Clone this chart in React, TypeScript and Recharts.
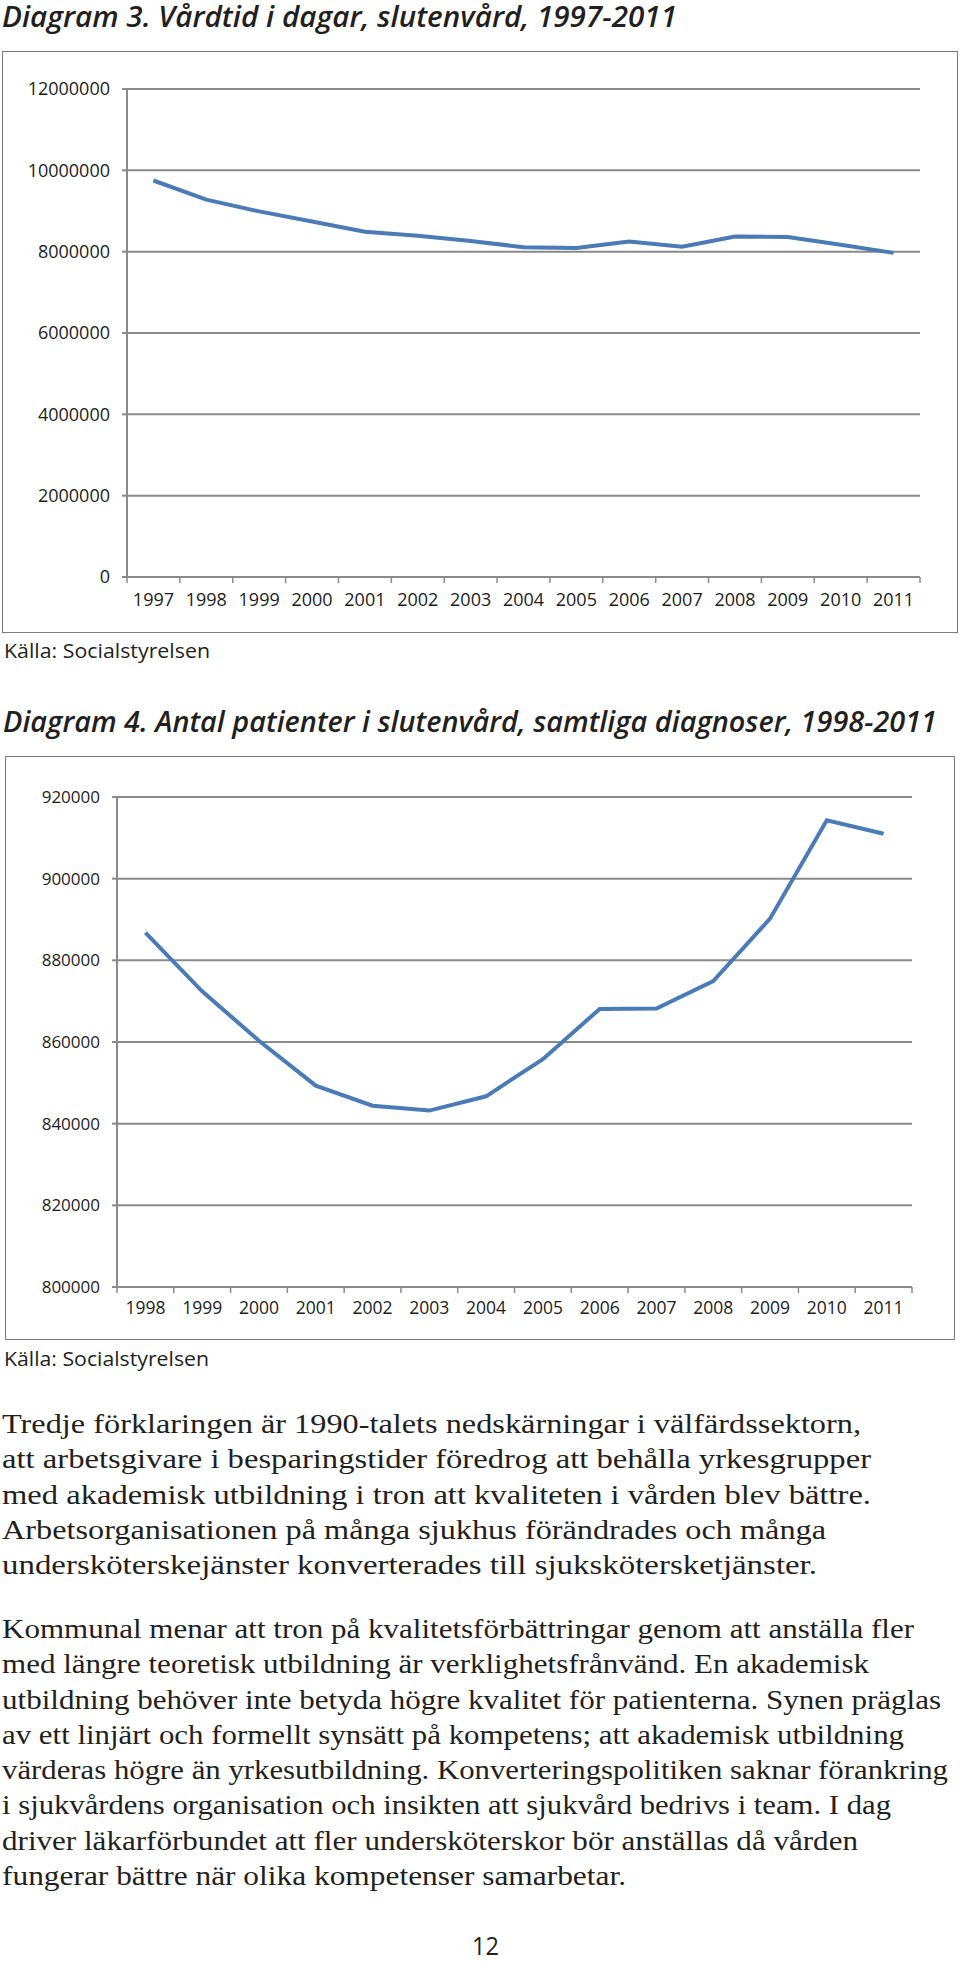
import React from "react";
import { LineChart, Line, XAxis, YAxis, CartesianGrid } from "recharts";

// Diagram 3 — vårdtid i dagar, slutenvård
const years1 = ["1997", "1998", "1999", "2000", "2001", "2002", "2003", "2004", "2005", "2006", "2007", "2008", "2009", "2010", "2011"];
const vardtid = [9750000, 9280000, 8990000, 8740000, 8490000, 8390000, 8260000, 8110000, 8090000, 8250000, 8120000, 8370000, 8360000, 8170000, 7970000];
const yTicks1 = [0, 2000000, 4000000, 6000000, 8000000, 10000000, 12000000];

// Diagram 4 — antal patienter i slutenvård
const years2 = ["1998", "1999", "2000", "2001", "2002", "2003", "2004", "2005", "2006", "2007", "2008", "2009", "2010", "2011"];
const patienter = [886800, 872400, 860300, 849300, 844400, 843200, 846700, 855800, 868100, 868200, 874900, 890200, 914300, 911000];
const yTicks2 = [800000, 820000, 840000, 860000, 880000, 900000, 920000];

const title1 = "Diagram 3. Vårdtid i dagar, slutenvård, 1997-2011";
const title2 = "Diagram 4. Antal patienter i slutenvård, samtliga diagnoser, 1998-2011";
const source = "Källa: Socialstyrelsen";

const para1 = [
  "Tredje förklaringen är 1990-talets nedskärningar i välfärdssektorn,",
  "att arbetsgivare i besparingstider föredrog att behålla yrkesgrupper",
  "med akademisk utbildning i tron att kvaliteten i vården blev bättre.",
  "Arbetsorganisationen på många sjukhus förändrades och många",
  "undersköterskejänster konverterades till sjukskötersketjänster.",
];
const para2 = [
  "Kommunal menar att tron på kvalitetsförbättringar genom att anställa fler",
  "med längre teoretisk utbildning är verklighetsfrånvänd. En akademisk",
  "utbildning behöver inte betyda högre kvalitet för patienterna. Synen präglas",
  "av ett linjärt och formellt synsätt på kompetens; att akademisk utbildning",
  "värderas högre än yrkesutbildning. Konverteringspolitiken saknar förankring",
  "i sjukvårdens organisation och insikten att sjukvård bedrivs i team. I dag",
  "driver läkarförbundet att fler undersköterskor bör anställas då vården",
  "fungerar bättre när olika kompetenser samarbetar.",
];
// right edge of each printed line (layout, not data)
const para1Ends = [861, 871, 871, 826, 817];
const para2Ends = [914, 869, 941, 904, 948, 891, 858, 626];

const GRID = "#8a8a8a";
const LINE = "#4a7bb6";
const INK = "#1c1c1c";
const TICK = 6;

// category ticks sit at band centres; tick marks at band boundaries
function makeXTick(band: number, count: number, fontSize: number, baseDy: number) {
  return function XTick(props: any) {
    const { x, y, payload, index } = props;
    const axisY = y - TICK;
    return (
      <g>
        <line x1={x - band / 2} x2={x - band / 2} y1={axisY} y2={axisY + TICK} stroke={GRID} strokeWidth={1.5} />
        {index === count - 1 && (
          <line x1={x + band / 2} x2={x + band / 2} y1={axisY} y2={axisY + TICK} stroke={GRID} strokeWidth={1.5} />
        )}
        <text x={x} y={axisY + baseDy} textAnchor="middle" fontSize={fontSize} fontFamily="Open Sans" fill={INK}>
          {payload.value}
        </text>
      </g>
    );
  };
}

const data1 = years1.map((year, i) => ({ year, value: vardtid[i] }));
const data2 = years2.map((year, i) => ({ year, value: patienter[i] }));

function Box({ left, top, width, height }: { left: number; top: number; width: number; height: number }) {
  return (
    <div
      style={{
        position: "absolute",
        left,
        top,
        width,
        height,
        border: "1.5px solid #7c7c7c",
        boxSizing: "border-box",
      }}
    />
  );
}

function Chart1() {
  const W = 960;
  const H = 640;
  const yw = 127;
  const right = 40;
  const band = (W - yw - right) / years1.length;
  return (
    <div style={{ position: "absolute", left: 0, top: 0 }}>
      <LineChart width={W} height={H} data={data1} margin={{ top: 89, right, left: 0, bottom: 33 }}>
        <CartesianGrid vertical={false} stroke={GRID} strokeWidth={2} />
        <XAxis
          dataKey="year"
          interval={0}
          height={30}
          padding={{ left: band / 2, right: band / 2 }}
          tickSize={TICK}
          tickMargin={0}
          tickLine={false}
          axisLine={{ stroke: GRID, strokeWidth: 2 }}
          tick={makeXTick(band, years1.length, 18, 29)}
        />
        <YAxis
          width={yw}
          domain={[0, 12000000]}
          ticks={yTicks1}
          interval={0}
          tickSize={5}
          tickMargin={12}
          tickLine={{ stroke: GRID, strokeWidth: 2 }}
          axisLine={{ stroke: GRID, strokeWidth: 2 }}
          tick={{ fill: INK, fontSize: 18, fontFamily: "Open Sans" }}
        />
        <Line type="linear" dataKey="value" stroke={LINE} strokeWidth={4} dot={false} isAnimationActive={false} />
      </LineChart>
    </div>
  );
}

function Chart2() {
  const W = 960;
  const H = 640;
  const top = 700;
  const yw = 117;
  const right = 48;
  const band = (W - yw - right) / years2.length;
  return (
    <div style={{ position: "absolute", left: 0, top }}>
      <LineChart width={W} height={H} data={data2} margin={{ top: 97, right, left: 0, bottom: 23 }}>
        <CartesianGrid vertical={false} stroke={GRID} strokeWidth={2} />
        <XAxis
          dataKey="year"
          interval={0}
          height={30}
          padding={{ left: band / 2, right: band / 2 }}
          tickSize={TICK}
          tickMargin={0}
          tickLine={false}
          axisLine={{ stroke: GRID, strokeWidth: 2 }}
          tick={makeXTick(band, years2.length, 17.5, 27)}
        />
        <YAxis
          width={yw}
          domain={[800000, 920000]}
          ticks={yTicks2}
          interval={0}
          tickSize={5}
          tickMargin={12}
          tickLine={{ stroke: GRID, strokeWidth: 2 }}
          axisLine={{ stroke: GRID, strokeWidth: 2 }}
          tick={{ fill: INK, fontSize: 17, fontFamily: "Open Sans" }}
        />
        <Line type="linear" dataKey="value" stroke={LINE} strokeWidth={4} dot={false} isAnimationActive={false} />
      </LineChart>
    </div>
  );
}

function Fit({ x, y, len, size, family, children, italic, weight }: any) {
  return (
    <text
      x={x}
      y={y}
      textLength={len}
      lengthAdjust="spacingAndGlyphs"
      fontSize={size}
      fontFamily={family}
      fontStyle={italic ? "italic" : "normal"}
      fontWeight={weight || 400}
      fill="#231f20"
    >
      {children}
    </text>
  );
}

function Texts() {
  const serif = "Liberation Serif";
  const sans = "Open Sans";
  const lh = 35.25;
  return (
    <svg width={960} height={1963} style={{ position: "absolute", left: 0, top: 0, pointerEvents: "none" }}>
      <Fit x={2} y={27} len={675} size={29} family={sans} italic weight={600}>{title1}</Fit>
      <Fit x={4} y={658} len={206} size={20} family={sans}>{source}</Fit>
      <Fit x={3} y={731.5} len={934} size={29} family={sans} italic weight={600}>{title2}</Fit>
      <Fit x={4} y={1366} len={205} size={20} family={sans}>{source}</Fit>
      {para1.map((t, i) => (
        <Fit key={"a" + i} x={2} y={1433 + i * lh} len={para1Ends[i] - 2} size={27} family={serif}>{t}</Fit>
      ))}
      {para2.map((t, i) => (
        <Fit key={"b" + i} x={2} y={1638 + i * lh} len={para2Ends[i] - 2} size={27} family={serif}>{t}</Fit>
      ))}
      <Fit x={472} y={1955} len={27} size={26} family={sans}>12</Fit>
    </svg>
  );
}

export default function App() {
  return (
    <div style={{ position: "absolute", left: 0, top: 0, width: 960, height: 1963, background: "#fff", overflow: "hidden" }}>
      <Box left={2} top={51} width={956} height={582} />
      <Box left={5} top={756} width={950} height={584} />
      <Chart1 />
      <Chart2 />
      <Texts />
    </div>
  );
}
